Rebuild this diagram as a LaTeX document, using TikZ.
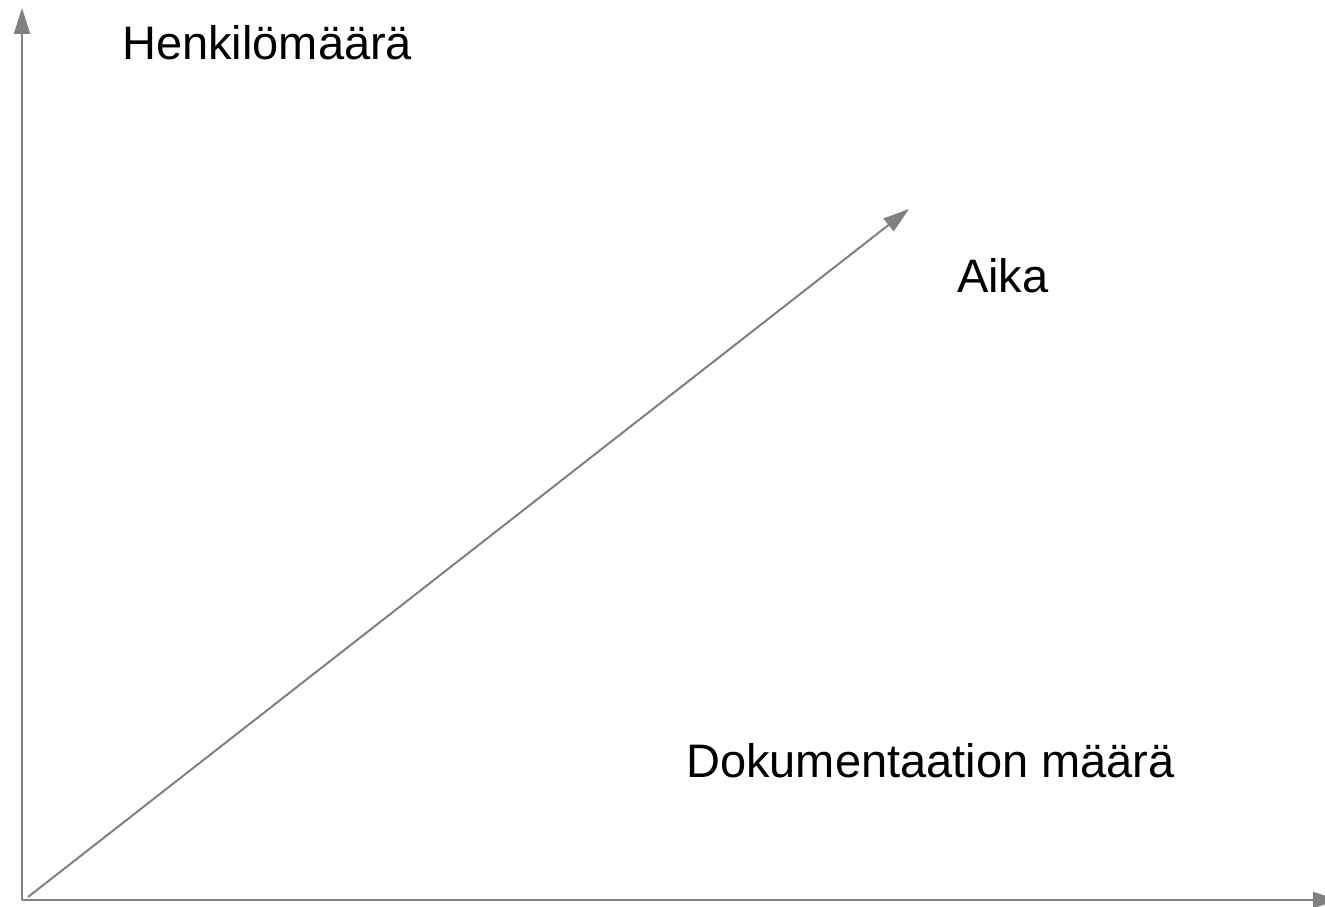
\documentclass[tikz,border=0pt]{standalone}
\usepackage{fontspec}
\setmainfont{Liberation Sans}
\usetikzlibrary{arrows.meta,positioning}
\definecolor{axisgray}{HTML}{808080}

\begin{document}
\begin{tikzpicture}[x=1pt,y=1pt,
        axis/.style={draw=axisgray, line width=2pt, -{Triangle[length=26pt,width=16pt]}},
        lbl/.style={anchor=base west, inner sep=0pt, font=\fontsize{47}{56}\selectfont}]
            \useasboundingbox (0,0) rectangle (1325,906);
            \coordinate (o) at (22,6);
            \coordinate (d0) at (28,9);
            \coordinate (y) at (22,898);
            \coordinate (x) at (1339,6);
            \coordinate (t) at (909,697);
            \node[lbl] (henk) at (122,846) {Henkilömäärä};
            \node[lbl] (aika) at (957,613) {Aika};
            \node[lbl] (dok) at (686,129) {Dokumentaation määrä};
            \draw[axis] (o) -- (y);
            \draw[axis] (o) -- (x);
            \draw[axis] (d0) -- (t);
        \end{tikzpicture}
\end{document}
